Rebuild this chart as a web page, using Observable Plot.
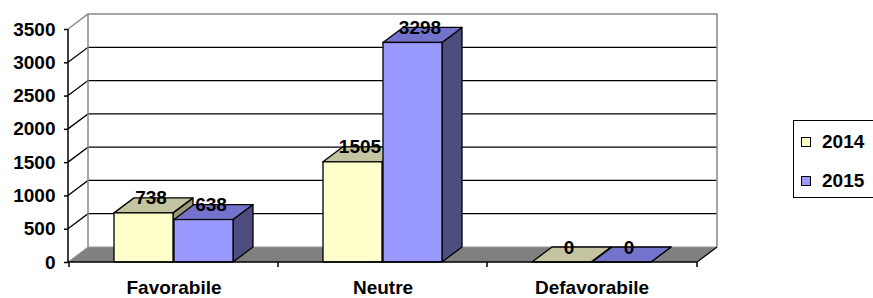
<!DOCTYPE html>
<html>
<head>
<meta charset="utf-8">
<script src="https://cdn.jsdelivr.net/npm/d3@7"></script>
<script src="https://cdn.jsdelivr.net/npm/@observablehq/plot@0.6"></script>
<style>
  body { margin: 0; background: #fff; }
  #wrap { position: relative; width: 873px; height: 298px; overflow: hidden; font-family: "Liberation Sans", Arial, sans-serif; }
  #legend { position: absolute; left: 793px; top: 120px; width: 100px; height: 76px; border: 1px solid #000; background: #fff; }
  .item { position: absolute; left: 0; height: 20px; display: flex; align-items: center; font-weight: bold; font-size: 19px; }
  .sw { width: 8px; height: 8px; border: 1px solid #000; margin-left: 7px; margin-right: 11px; }
</style>
</head>
<body>
<div id="wrap"><div id="chart"></div>
<div id="legend">
  <div class="item" style="top:11px"><div class="sw" style="background:#FFFFCC"></div>2014</div>
  <div class="item" style="top:50px"><div class="sw" style="background:#9999FF"></div>2015</div>
</div>
</div>
<script>
const categories = ["Favorabile", "Neutre", "Defavorabile"];
const years = ["2014", "2015"];
const values2014 = [738, 1505, 0];
const values2015 = [638, 3298, 0];
const yTicks = [0, 500, 1000, 1500, 2000, 2500, 3000, 3500];

const rows = categories.flatMap((c, i) => [
  {category: c, year: years[0], value: values2014[i]},
  {category: c, year: years[1], value: values2015[i]}
]);
const d2014 = rows.filter(d => d.year === "2014");
const d2015 = rows.filter(d => d.year === "2015");

const DX = 20, DY = -15;
const NS = "http://www.w3.org/2000/svg";
function el(tag, attrs) {
  const e = document.createElementNS(NS, tag);
  for (const k in attrs) e.setAttribute(k, attrs[k]);
  return e;
}
function pts(a) { return a.map(p => p.join(",")).join(" "); }

function frame(index, scales, values, dim) {
  const g = el("g", {});
  const L = dim.marginLeft, R = dim.width - dim.marginRight;
  const y0 = scales.y(yTicks[0]), yT = scales.y(yTicks[yTicks.length - 1]);
  // back wall
  g.appendChild(el("rect", {x: L + DX, y: yT + DY, width: R - L, height: y0 - yT, fill: "#fff", stroke: "none"}));
  // left wall
  g.appendChild(el("polygon", {points: pts([[L, y0], [L, yT], [L + DX, yT + DY], [L + DX, y0 + DY]]), fill: "#fff"}));
  // floor
  g.appendChild(el("polygon", {points: pts([[L, y0], [R, y0], [R + DX, y0 + DY], [L + DX, y0 + DY]]), fill: "#808080"}));
  // gridlines
  for (const t of yTicks.slice(1, -1)) {
    const y = scales.y(t);
    g.appendChild(el("polyline", {points: pts([[L, y], [L + DX, y + DY], [R + DX, y + DY]]), fill: "none", stroke: "#000", "stroke-width": 1.3}));
  }
  // wall edges (gray)
  g.appendChild(el("polyline", {points: pts([[L, yT], [L + DX, yT + DY], [R + DX, yT + DY], [R + DX, y0 + DY]]), fill: "none", stroke: "#888", "stroke-width": 1.5}));
  g.appendChild(el("line", {x1: L + DX, y1: yT + DY, x2: L + DX, y2: y0 + DY, stroke: "#888", "stroke-width": 1.5}));
  g.appendChild(el("polyline", {points: pts([[L, y0], [L + DX, y0 + DY], [R + DX, y0 + DY]]), fill: "none", stroke: "#999", "stroke-width": 1}));
  g.appendChild(el("line", {x1: R, y1: y0, x2: R + DX, y2: y0 + DY, stroke: "#000", "stroke-width": 1.3}));
  return g;
}

function axes(index, scales, values, dim) {
  const g = el("g", {});
  const L = dim.marginLeft, R = dim.width - dim.marginRight;
  const y0 = scales.y(yTicks[0]), yT = scales.y(yTicks[yTicks.length - 1]);
  g.appendChild(el("line", {x1: L, y1: y0, x2: L, y2: yT, stroke: "#000", "stroke-width": 1.5}));
  g.appendChild(el("line", {x1: L, y1: y0, x2: R, y2: y0, stroke: "#000", "stroke-width": 1.5}));
  const xs = categories.map(c => scales.x(c)).concat([R]);
  for (const x of xs) g.appendChild(el("line", {x1: x, y1: y0, x2: x, y2: y0 + 5, stroke: "#000", "stroke-width": 1.5}));
  return g;
}

function bar3d(topFill, sideFill) {
  return function(index, scales, values, dim, ctx, next) {
    const g = next(index, scales, values, dim, ctx);
    for (const r of Array.from(g.querySelectorAll("rect"))) {
      const x = +r.getAttribute("x"), y = +r.getAttribute("y");
      const w = +r.getAttribute("width"), h = +(r.getAttribute("height") || 0);
      const side = el("polygon", {points: pts([[x + w, y], [x + w, y + h], [x + w + DX, y + h + DY], [x + w + DX, y + DY]]), fill: sideFill, stroke: "#000", "stroke-width": 1.3, "stroke-linejoin": "round"});
      const top = el("polygon", {points: pts([[x, y], [x + w, y], [x + w + DX, y + DY], [x + DX, y + DY]]), fill: topFill, stroke: "#000", "stroke-width": 1.3, "stroke-linejoin": "round"});
      g.insertBefore(side, r);
      g.insertBefore(top, r);
    }
    return g;
  };
}

const font = {fontSize: 19, fontWeight: "bold"};

const chart = Plot.plot({
  width: 873,
  height: 298,
  marginLeft: 68,
  marginRight: 176,
  marginTop: 29,
  marginBottom: 36,
  style: {fontFamily: "'Liberation Sans', Arial, sans-serif", fontSize: "19px", fontWeight: "bold", background: "transparent", color: "#000"},
  x: {domain: categories, padding: 0, label: null},
  y: {domain: [0, 3500], label: null},
  marks: [
    Plot.ruleY(yTicks, {y: d => d, render: frame}),
    Plot.barY(d2014, {x: "category", y: "value", fill: "#FFFFCC", stroke: "#000", strokeWidth: 1.3, insetLeft: 45, insetRight: 105, render: bar3d("#C4C4A0", "#9A9A78")}),
    Plot.barY(d2015, {x: "category", y: "value", fill: "#9999FF", stroke: "#000", strokeWidth: 1.3, insetLeft: 105, insetRight: 45, render: bar3d("#7373CC", "#4D4D80")}),
    Plot.ruleY([0], {y: d => d, render: axes}),
    Plot.axisY({ticks: yTicks, tickSize: 4, tickPadding: 9, tickFormat: d => String(d), label: null, ...font, strokeWidth: 1.5}),
    Plot.axisX({tickSize: 0, tickPadding: 18, label: null, ...font}),
    Plot.text(d2014, {x: "category", y: "value", text: d => String(d.value), dx: -23, dy: -15, ...font}),
    Plot.text(d2015, {x: "category", y: "value", text: d => String(d.value), dx: 37, dy: -15, ...font})
  ]
});
document.getElementById("chart").appendChild(chart);
</script>
</body>
</html>
